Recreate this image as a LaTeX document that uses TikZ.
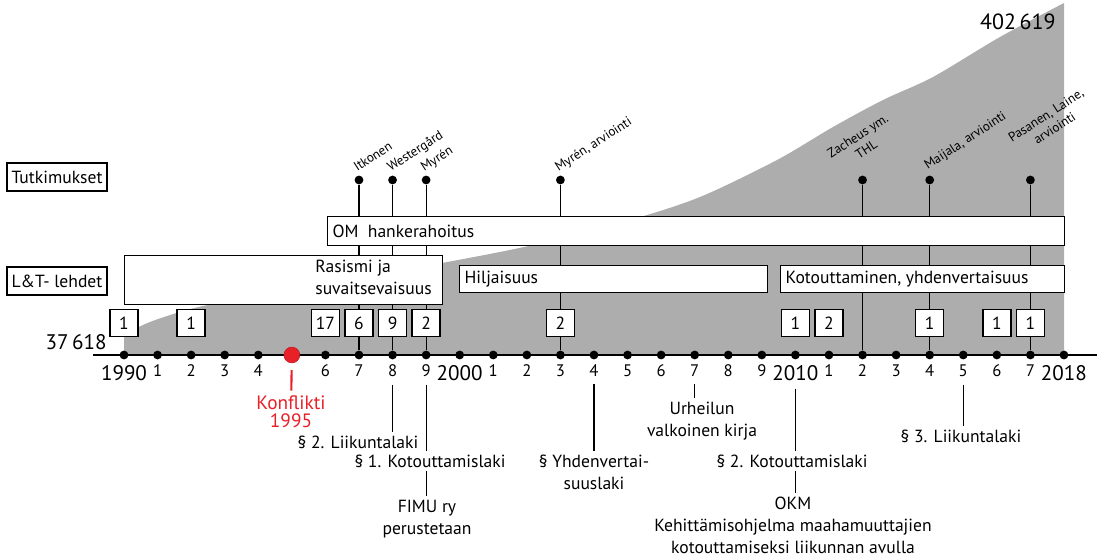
\documentclass[tikz,border=0pt]{standalone}
\usepackage{fontspec}
\setmainfont{PT Sans}
\usetikzlibrary{positioning,calc}
\definecolor{vaesto}{RGB}{173,173,173}
\definecolor{konflikti}{RGB}{232,32,40}

\begin{document}
\begin{tikzpicture}[x=0.02cm,y=-0.02cm,
    viiva/.style={line width=0.7pt},
    laatikko/.style={draw,fill=white,line width=0.8pt,inner sep=0pt},
    luku/.style={laatikko,minimum width=0.56cm,minimum height=0.54cm},
    piste/.style={circle,fill=black,inner sep=0pt,minimum size=5pt},
    tutk/.style={rotate=33,anchor=base west,inner sep=0pt,align=center,
                 font=\fontsize{7.5}{9}\selectfont},
    vuosi/.style={anchor=base,inner sep=1pt,font=\fontsize{9.5}{11}\selectfont},
    vuosik/.style={anchor=base,inner sep=1pt,font=\fontsize{12}{14}\selectfont},
    huom/.style={align=center,inner sep=2pt,font=\fontsize{10}{12.5}\selectfont}]

  \useasboundingbox (0,0) rectangle (1106,560);

  % vaestomaara
  \fill[vaesto] (124,355) -- plot[smooth,tension=0.5] coordinates {(124,334)
      (150,322) (180,312) (213,304) (330,283) (442,263) (533,245) (630,220)
      (700,197) (777,160) (833,127) (883,100) (933,77) (1000,37) (1064,3)}
      -- (1064,355) -- cycle;
  \node[anchor=east,inner sep=0pt,font=\fontsize{12}{14}\selectfont] (alkuarvo) at (107,342) {37\,618};
  \node[anchor=east,inner sep=0pt,font=\fontsize{12.5}{14}\selectfont] (loppuarvo) at (1056,22) {402\,619};

  % aikajana
  \coordinate (alku) at (93,355);
  \coordinate (loppu) at (1097,355);
  \draw[line width=1.2pt] (alku) -- (loppu);
  \foreach \i in {0,...,28}
    \node[piste] (v\i) at ({124+\i*33.57},355) {};
  \node[circle,fill=konflikti,draw=konflikti!80!black,line width=0.3pt,inner sep=0pt,minimum size=9pt] (v5) at (v5) {};

  \foreach \i in {1,2,3,4,6,7,8,9,11,12,13,14,15,16,17,18,19,21,22,23,24,25,26,27}{
    \pgfmathtruncatemacro{\nro}{mod(\i,10)}
    \node[vuosi] (l\i) at (v\i |- 0,377) {\nro};
  }
  \foreach \i/\v in {0/1990,10/2000,20/2010,28/2018}
    \node[vuosik] (l\i) at (v\i |- 0,381) {\v};

  % tutkimukset
  \foreach \i in {7,8,9,13,22,24,27}{
    \node[piste] (t\i) at (v\i |- 0,180) {};
    \draw[viiva] (v\i) -- (t\i);
  }
  \node[tutk] (n7) at ($(t7)+(-2,-8)$) {Itkonen};
  \node[tutk] (n8) at ($(t8)+(-2,-8)$) {Westergård};
  \node[tutk] (n9) at ($(t9)+(-2,-8)$) {Myrén};
  \node[tutk] (n13) at ($(t13)+(-2,-8)$) {Myrén, arviointi};
  \node[tutk] (n22) at ($(t22)+(-23,-8)$) {Zacheus ym.\\THL};
  \node[tutk] (n24) at ($(t24)+(-2,-10)$) {Maijala, arviointi};
  \node[tutk] (n27) at ($(t27)+(-10,-24)$) {Pasanen, Laine,\\arviointi};

  % rahoitus ja lehdet
  \node[laatikko,anchor=north west,minimum width=14.74cm,minimum height=0.58cm] (om) at (327,216) {};
  \node[right=3pt of om.west,inner sep=0pt] (omt) {OM\ \ hankerahoitus};
  \node[laatikko,anchor=north west,minimum width=6.36cm,minimum height=0.98cm] (rasismi) at (124,255) {};
  \node[anchor=north west,align=left,inner sep=0pt,font=\fontsize{10}{12.5}\selectfont] (rasismit) at (315,260) {Rasismi ja\\suvaitsevaisuus};
  \node[laatikko,anchor=north west,minimum width=6.16cm,minimum height=0.54cm] (hiljaisuus) at (459,265) {};
  \node[right=3pt of hiljaisuus.west,inner sep=0pt] (hiljaisuust) {Hiljaisuus};
  \node[laatikko,anchor=north west,minimum width=5.68cm,minimum height=0.54cm] (kotout) at (780,265) {};
  \node[right=3pt of kotout.west,inner sep=0pt] (kotoutt) {Kotouttaminen, yhdenvertaisuus};

  \foreach \i/\lkm in {0/1,2/1,6/17,7/6,8/9,9/2,13/2,20/1,21/2,24/1,26/1,27/1}
    \node[luku] (k\i) at (v\i |- 0,323) {\lkm};

  \node[laatikko,minimum width=2cm,minimum height=0.56cm] (tutkimukset) at (57,177) {Tutkimukset};
  \node[laatikko,minimum width=2cm,minimum height=0.56cm] (lehdet) at (57,281) {L\&T- lehdet};

  % konflikti
  \node[huom,text=konflikti,font=\fontsize{11}{10}\selectfont] (konf) at (291,412) {Konflikti\\1995};
  \draw[konflikti,line width=1.2pt,shorten <=4pt,shorten >=1pt] (v5) -- (konf);

  % lait ja ohjelmat
  \node[huom] (a1) at (358,442) {§ 2. Liikuntalaki};
  \node[huom] (a2) at (430,461) {§ 1. Kotouttamislaki};
  \node[huom] (a3) at (427,519) {FIMU ry\\perustetaan};
  \node[huom] (a4) at (594,472) {§ Yhdenvertai-\\suuslaki};
  \node[huom] (a5) at (702,421) {Urheilun\\valkoinen kirja};
  \node[huom] (a6) at (792,461) {§ 2. Kotouttamislaki};
  \node[huom] (a7) at (793,525) {OKM\\Kehittämisohjelma maahamuuttajien\\kotouttamiseksi liikunnan avulla};
  \node[huom] (a8) at (961,436) {§ 3. Liikuntalaki};

  \draw[viiva,shorten <=3pt] (l8) -- (l8 |- a1.north);
  \draw[viiva,shorten <=3pt] (l9) -- (l9 |- a2.north);
  \draw[viiva] (l9 |- a2.south) -- (l9 |- a3.north);
  \draw[viiva,shorten <=3pt] (l14) -- (l14 |- a4.north);
  \draw[viiva,shorten <=3pt] (l17) -- (l17 |- a5.north);
  \draw[viiva,shorten <=3pt] (l20) -- (l20 |- a6.north);
  \draw[viiva] (l20 |- a6.south) -- (l20 |- a7.north);
  \draw[viiva,shorten <=3pt] (l25) -- (l25 |- a8.north);
\end{tikzpicture}
\end{document}
